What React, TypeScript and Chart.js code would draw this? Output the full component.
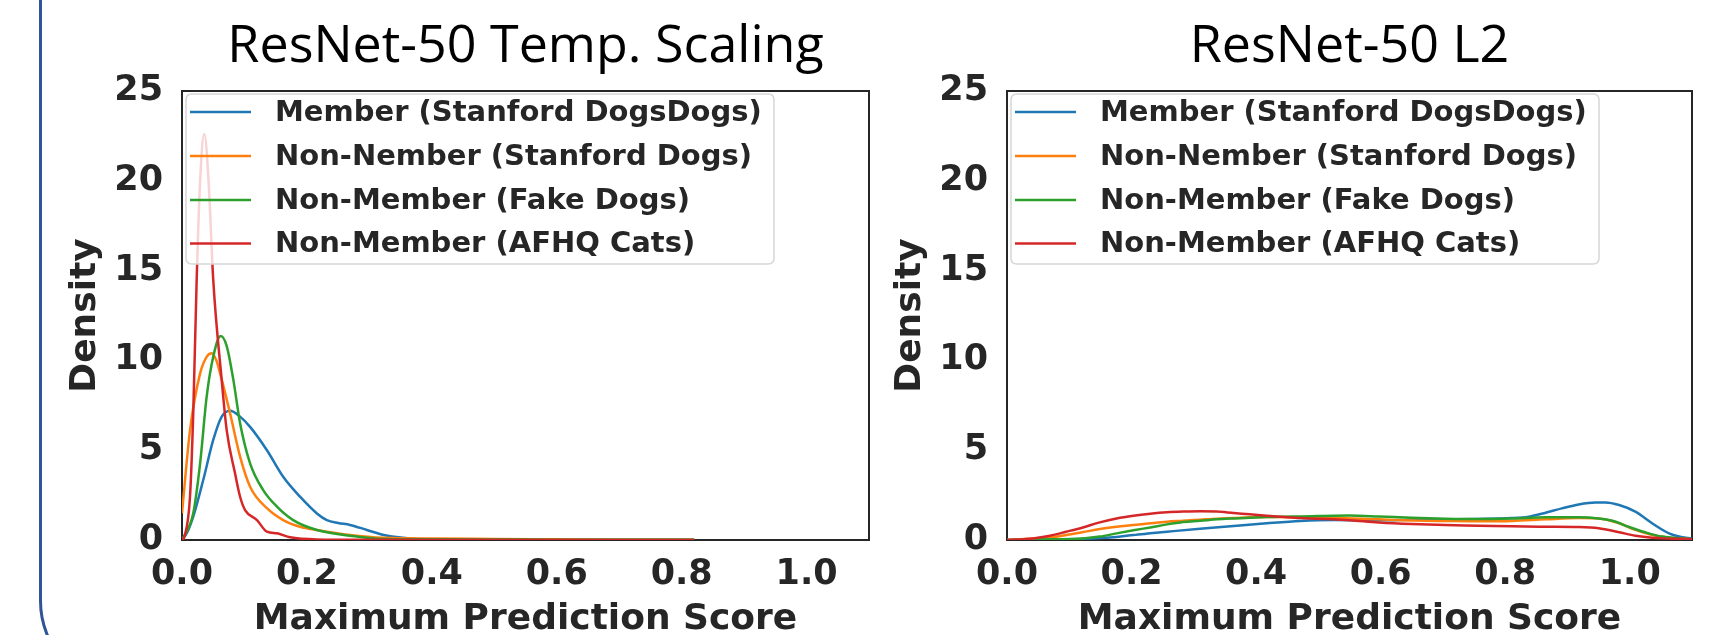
import React, { useEffect, useRef } from "react";
import { Chart, registerables } from "chart.js";

Chart.register(...registerables);

// ---------- data ----------
const seriesLabels = [
  "Member (Stanford DogsDogs)",
  "Non-Nember (Stanford Dogs)",
  "Non-Member (Fake Dogs)",
  "Non-Member (AFHQ Cats)",
];
const seriesColors = ["#1f77b4", "#ff7f0e", "#2ca02c", "#d62728"];
const panelTitles = ["ResNet-50 Temp. Scaling", "ResNet-50 L2"];
const xAxisTitle = "Maximum Prediction Score";
const yAxisTitle = "Density";
const xTicks = [0, 0.2, 0.4, 0.6, 0.8, 1.0];
const yTicks = [0, 5, 10, 15, 20, 25];

// Temp. Scaling panel: [score, density]
const tempMember = [
  [0, 0], [0.008, 0.4], [0.018, 1.3], [0.034, 3.34], [0.05, 5.57], [0.0636, 6.87], [0.077, 7.2],
  [0.093, 6.87], [0.109, 6.3], [0.136, 5.0], [0.162, 3.52], [0.189, 2.41], [0.216, 1.48],
  [0.232, 1.11], [0.25, 0.95], [0.269, 0.84], [0.296, 0.56], [0.323, 0.28], [0.35, 0.14],
  [0.376, 0.06], [0.45, 0.03], [0.6, 0.02], [0.82, 0.01],
];
const tempNonMemberDogs = [
  [0, 1.49], [0.0128, 6.1], [0.029, 9.28], [0.0395, 10.2], [0.0475, 10.4], [0.055, 10.0],
  [0.061, 9.28], [0.077, 7.05], [0.093, 4.64], [0.109, 2.97], [0.136, 1.77], [0.162, 1.11],
  [0.189, 0.74], [0.216, 0.56], [0.269, 0.28], [0.323, 0.12], [0.4, 0.08], [0.5, 0.06],
  [0.6, 0.04], [0.7, 0.02], [0.82, 0.01],
];
const tempFakeDogs = [
  [0, 0], [0.018, 1.49], [0.029, 4.27], [0.0395, 7.98], [0.05, 10.2], [0.062, 11.36],
  [0.0716, 10.8], [0.0823, 8.9], [0.093, 6.5], [0.109, 4.27], [0.13, 2.78], [0.152, 1.86],
  [0.178, 1.11], [0.216, 0.56], [0.269, 0.24], [0.323, 0.06], [0.4, 0.04], [0.5, 0.03],
  [0.6, 0.02], [0.82, 0.01],
];
const tempCats = [
  [0, 0], [0.004, 0.2], [0.0128, 2.41], [0.018, 7.05], [0.0235, 14.5], [0.029, 20],
  [0.0358, 22.6], [0.0425, 20], [0.05, 14.5], [0.0636, 8.9], [0.0716, 6.1], [0.085, 3.7],
  [0.093, 2.41], [0.101, 1.67], [0.12, 1.11], [0.136, 0.46], [0.152, 0.37], [0.173, 0.15],
  [0.216, 0.03], [0.3, 0.01], [0.82, 0.0],
];

// L2 panel: [score, density]
const l2Member = [
  [0, 0], [0.122, 0.07], [0.176, 0.17], [0.203, 0.28], [0.23, 0.37], [0.257, 0.46], [0.31, 0.63],
  [0.364, 0.78], [0.417, 0.93], [0.471, 1.06], [0.524, 1.11], [0.6, 1.1], [0.65, 1.13],
  [0.704, 1.15], [0.758, 1.17], [0.811, 1.22], [0.838, 1.3], [0.865, 1.52], [0.891, 1.76],
  [0.918, 1.98], [0.945, 2.09], [0.961, 2.09], [0.983, 1.95], [1.009, 1.58], [1.036, 0.93],
  [1.063, 0.37], [1.079, 0.19], [1.1, 0.07],
];
const l2NonMemberDogs = [
  [0, 0], [0.042, 0.09], [0.069, 0.15], [0.095, 0.28], [0.122, 0.44], [0.149, 0.61], [0.176, 0.74],
  [0.203, 0.83], [0.23, 0.93], [0.257, 1.02], [0.283, 1.07], [0.31, 1.13], [0.337, 1.19],
  [0.364, 1.22], [0.39, 1.26], [0.417, 1.28], [0.444, 1.28], [0.471, 1.26], [0.524, 1.24],
  [0.597, 1.15], [0.65, 1.09], [0.704, 1.06], [0.758, 1.04], [0.811, 1.06], [0.865, 1.15],
  [0.918, 1.22], [0.95, 1.2], [0.983, 0.93], [1.009, 0.56], [1.036, 0.28], [1.063, 0.13],
  [1.1, 0.04],
];
const l2FakeDogs = [
  [0, 0], [0.069, 0.04], [0.122, 0.09], [0.149, 0.19], [0.176, 0.37], [0.203, 0.54], [0.23, 0.7],
  [0.257, 0.87], [0.283, 1.0], [0.31, 1.07], [0.337, 1.15], [0.364, 1.2], [0.39, 1.24],
  [0.417, 1.28], [0.444, 1.3], [0.471, 1.31], [0.498, 1.33], [0.524, 1.35], [0.55, 1.36],
  [0.597, 1.31], [0.65, 1.24], [0.704, 1.19], [0.758, 1.17], [0.811, 1.2], [0.865, 1.26],
  [0.918, 1.26], [0.95, 1.2], [0.972, 1.07], [0.998, 0.74], [1.025, 0.43], [1.052, 0.19],
  [1.1, 0.04],
];
const l2Cats = [
  [0, 0], [0.042, 0.09], [0.069, 0.24], [0.095, 0.46], [0.122, 0.7], [0.149, 0.98], [0.176, 1.2],
  [0.203, 1.35], [0.23, 1.46], [0.257, 1.54], [0.283, 1.58], [0.31, 1.6], [0.337, 1.58],
  [0.364, 1.5], [0.39, 1.43], [0.417, 1.35], [0.444, 1.28], [0.471, 1.22], [0.498, 1.19],
  [0.524, 1.15], [0.55, 1.1], [0.597, 0.98], [0.65, 0.89], [0.704, 0.83], [0.758, 0.8],
  [0.811, 0.76], [0.865, 0.74], [0.918, 0.72], [0.95, 0.65], [0.983, 0.43], [1.009, 0.24],
  [1.036, 0.13], [1.1, 0.04],
];

const tempSeries = [tempMember, tempNonMemberDogs, tempFakeDogs, tempCats];
const l2Series = [l2Member, l2NonMemberDogs, l2FakeDogs, l2Cats];

// ---------- styling ----------
const TEXT = "#262626";
const BOLD_FONT = "'DejaVu Sans', sans-serif";

const framePlugin = {
  id: "frameBox",
  beforeDatasetsDraw(chart: any) {
    const { ctx, chartArea: a } = chart;
    ctx.save();
    ctx.strokeStyle = "#262626";
    ctx.lineWidth = 2;
    ctx.strokeRect(a.left, a.top, a.right - a.left, a.bottom - a.top);
    ctx.restore();
  },
};

const legendPlugin = {
  id: "insideLegend",
  afterDatasetsDraw(chart: any) {
    const { ctx, chartArea: a } = chart;
    const x0 = a.left + 4;
    const y0 = a.top + 3;
    const w = 588;
    const h = 170;
    const r = 6;
    ctx.save();
    ctx.beginPath();
    ctx.moveTo(x0 + r, y0);
    ctx.lineTo(x0 + w - r, y0);
    ctx.quadraticCurveTo(x0 + w, y0, x0 + w, y0 + r);
    ctx.lineTo(x0 + w, y0 + h - r);
    ctx.quadraticCurveTo(x0 + w, y0 + h, x0 + w - r, y0 + h);
    ctx.lineTo(x0 + r, y0 + h);
    ctx.quadraticCurveTo(x0, y0 + h, x0, y0 + h - r);
    ctx.lineTo(x0, y0 + r);
    ctx.quadraticCurveTo(x0, y0, x0 + r, y0);
    ctx.closePath();
    ctx.fillStyle = "rgba(255,255,255,0.8)";
    ctx.fill();
    ctx.strokeStyle = "#d6d6d6";
    ctx.lineWidth = 1.5;
    ctx.stroke();

    const rows = [21, 65, 109, 152.5];
    chart.data.datasets.forEach((ds: any, i: number) => {
      const cy = a.top + rows[i];
      ctx.strokeStyle = ds.borderColor;
      ctx.lineWidth = 2.5;
      ctx.beginPath();
      ctx.moveTo(a.left + 8, cy);
      ctx.lineTo(a.left + 69, cy);
      ctx.stroke();
      ctx.fillStyle = TEXT;
      ctx.font = `bold 29px ${BOLD_FONT}`;
      ctx.textBaseline = "middle";
      ctx.textAlign = "left";
      ctx.fillText(ds.label, a.left + 93, cy + 1);
    });
    ctx.restore();
  },
};

type PanelProps = {
  title: string;
  series: number[][][];
  left: number;
  width: number;
  yWidth: number;
  yTitlePad: number;
  padRight: number;
};

function Panel({ title, series, left, width, yWidth, yTitlePad, padRight }: PanelProps) {
  const ref = useRef<HTMLCanvasElement | null>(null);
  useEffect(() => {
    if (!ref.current) return;
    const chart = new Chart(ref.current, {
      type: "line",
      data: {
        datasets: series.map((s, i) => ({
          label: seriesLabels[i],
          data: s.map(([x, y]) => ({ x, y })),
          borderColor: seriesColors[i],
          backgroundColor: seriesColors[i],
          borderWidth: 2.5,
          pointRadius: 0,
          cubicInterpolationMode: "monotone",
          fill: false,
          order: 4 - i,
        })),
      },
      options: {
        responsive: false,
        animation: false,
        events: [],
        layout: { padding: { top: 15.7, left: 0, right: padRight, bottom: 0 } },
        plugins: {
          legend: { display: false },
          tooltip: { enabled: false },
          title: {
            display: true,
            fullSize: false,
            text: title,
            color: "#000",
            font: { family: "'Open Sans', sans-serif", size: 52, weight: "normal", lineHeight: 1.2 },
            padding: { top: 0, bottom: 12.9 },
          },
        },
        scales: {
          x: {
            type: "linear",
            min: 0,
            max: 1.1,
            grid: { display: false, drawTicks: false },
            border: { display: false },
            afterBuildTicks: (s: any) => {
              s.ticks = xTicks.map((v) => ({ value: v }));
            },
            afterFit: (s: any) => {
              s.height = 95;
            },
            ticks: {
              padding: 14,
              color: TEXT,
              maxRotation: 0,
              autoSkip: false,
              font: { family: BOLD_FONT, size: 35, weight: "bold" },
              callback: (v: any) => Number(v).toFixed(1),
            },
            title: {
              display: true,
              text: xAxisTitle,
              color: TEXT,
              font: { family: BOLD_FONT, size: 36, weight: "bold", lineHeight: 0.8 },
              padding: { top: 0, bottom: 0.6 },
            },
          },
          y: {
            type: "linear",
            min: 0,
            max: 25,
            grid: { display: false, drawTicks: false },
            border: { display: false },
            afterBuildTicks: (s: any) => {
              s.ticks = yTicks.map((v) => ({ value: v }));
            },
            afterFit: (s: any) => {
              s.width = yWidth;
            },
            ticks: {
              padding: 19,
              color: TEXT,
              autoSkip: false,
              font: { family: BOLD_FONT, size: 35, weight: "bold" },
              callback: (v: any) => String(v),
            },
            title: {
              display: true,
              text: yAxisTitle,
              color: TEXT,
              font: { family: BOLD_FONT, size: 36, weight: "bold", lineHeight: 1.2 },
              padding: { top: yTitlePad, bottom: 0 },
            },
          },
        },
      } as any,
      plugins: [framePlugin, legendPlugin],
    } as any);
    return () => chart.destroy();
  }, []);
  return (
    <canvas
      ref={ref}
      width={width}
      height={635}
      style={{ position: "absolute", left, top: 0, width, height: 635 }}
    />
  );
}

export default function App() {
  return (
    <div
      style={{
        position: "fixed",
        left: 0,
        top: 0,
        width: 1711,
        height: 635,
        overflow: "hidden",
        background: "#fff",
      }}
    >
      <div
        style={{
          position: "absolute",
          left: 39,
          top: -300,
          width: 2200,
          height: 991,
          boxSizing: "border-box",
          border: "3px solid #2F5597",
          borderRadius: 90,
        }}
      />
      <Panel title={panelTitles[0]} series={tempSeries} left={0} width={880} yWidth={182} yTitlePad={64.4} padRight={11} />
      <Panel title={panelTitles[1]} series={l2Series} left={880} width={831} yWidth={127} yTitlePad={9.4} padRight={19} />
    </div>
  );
}
